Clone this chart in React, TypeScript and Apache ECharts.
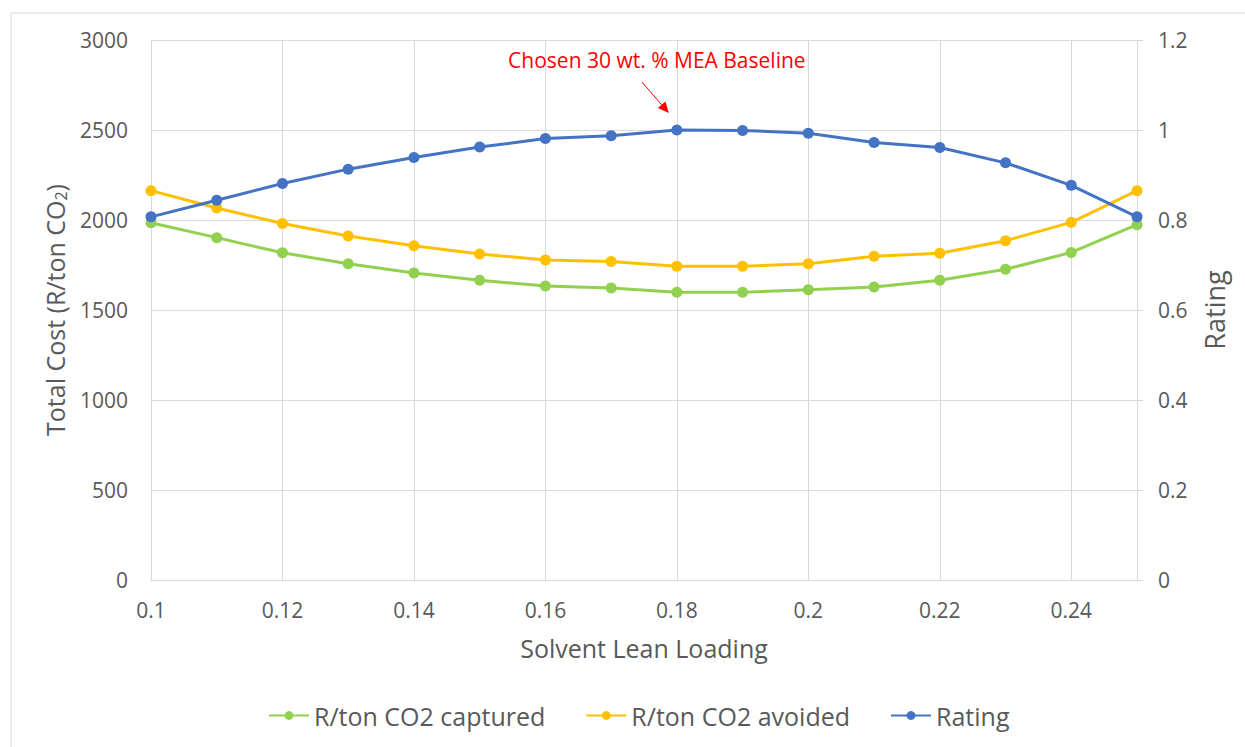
import React, { useEffect, useRef } from "react";
import * as echarts from "echarts";

// Solvent lean loading (mol CO2 / mol MEA)
const leanLoading = [0.1, 0.11, 0.12, 0.13, 0.14, 0.15, 0.16, 0.17, 0.18, 0.19, 0.2, 0.21, 0.22, 0.23, 0.24, 0.25];

// Total cost per ton of CO2 captured (R/ton)
const costCaptured = [1985, 1902, 1818, 1757, 1705, 1665, 1633, 1622, 1598, 1598, 1613, 1628, 1665, 1726, 1820, 1974];

// Total cost per ton of CO2 avoided (R/ton)
const costAvoided = [2163, 2067, 1981, 1911, 1857, 1811, 1778, 1769, 1743, 1743, 1757, 1798, 1815, 1885, 1987, 2163];

// Normalised rating
const rating = [0.807, 0.844, 0.881, 0.913, 0.939, 0.962, 0.981, 0.987, 1.0, 0.999, 0.993, 0.972, 0.961, 0.927, 0.877, 0.807];

const seriesNames = ["R/ton CO2 captured", "R/ton CO2 avoided", "Rating"];
const seriesColors = ["#92D050", "#FFC000", "#4472C4"];

// The chosen baseline point
const baselineX = 0.18;
const baselineRating = 1.0;
const baselineText = "Chosen 30 wt. % MEA Baseline";

const FONT = "'Open Sans', 'Noto Sans', sans-serif";
const TEXT = "#595959";
const GRID = "#D9D9D9";

const pairs = (ys: number[]) => leanLoading.map((x, i) => [x, ys[i]]);

export default function App() {
  const ref = useRef<HTMLDivElement>(null);

  useEffect(() => {
    if (!ref.current) return;
    const chart = echarts.init(ref.current, undefined, { renderer: "svg" });

    const lineSeries = (name: string, color: string, data: number[][], yAxisIndex: number) => ({
      name,
      type: "line",
      yAxisIndex,
      data,
      symbol: "circle",
      symbolSize: 11,
      showSymbol: true,
      lineStyle: { color, width: 3 },
      itemStyle: { color },
      z: 3,
    });

    chart.setOption({
      animation: false,
      textStyle: { fontFamily: FONT },
      grid: { left: 151, right: 108, top: 40, bottom: 167 },
      legend: {
        data: seriesNames,
        top: 698,
        left: 263,
        itemWidth: 40,
        itemHeight: 11,
        itemGap: 40,
        textStyle: { color: TEXT, fontSize: 25, fontFamily: FONT },
      },
      xAxis: {
        type: "value",
        min: 0.1,
        max: 0.25,
        interval: 0.02,
        name: "Solvent Lean Loading",
        nameLocation: "middle",
        nameGap: 55,
        nameTextStyle: { color: TEXT, fontSize: 25, fontFamily: FONT },
        axisLine: { show: true, lineStyle: { color: GRID, width: 1 } },
        axisTick: { show: false },
        axisLabel: {
          color: TEXT,
          fontSize: 21,
          margin: 19,
          showMaxLabel: false,
          formatter: (v: number) => String(+v.toFixed(2)),
        },
        splitLine: { show: true, lineStyle: { color: GRID, width: 1 } },
      },
      yAxis: [
        {
          type: "value",
          min: 0,
          max: 3000,
          interval: 500,
          position: "left",
          name: "{t|Total Cost (R/ton CO}{s|2}{t|)}",
          nameLocation: "middle",
          nameRotate: 90,
          nameGap: 80,
          nameTextStyle: {
            color: TEXT,
            fontFamily: FONT,
            rich: {
              t: { fontSize: 25, color: TEXT, fontFamily: FONT },
              s: { fontSize: 16, color: TEXT, fontFamily: FONT, padding: [12, 0, 0, 0] },
            },
          },
          axisLine: { show: false },
          axisTick: { show: false },
          axisLabel: { color: TEXT, fontSize: 21, margin: 23, formatter: (v: number) => String(v) },
          splitLine: { show: true, lineStyle: { color: GRID, width: 1 } },
        },
        {
          type: "value",
          min: 0,
          max: 1.2,
          interval: 0.2,
          position: "right",
          name: "Rating",
          nameLocation: "middle",
          nameRotate: 90,
          nameGap: 64,
          nameTextStyle: { color: TEXT, fontSize: 27, fontFamily: FONT },
          axisLine: { show: true, lineStyle: { color: GRID, width: 1 } },
          axisTick: { show: true, length: 6, lineStyle: { color: GRID, width: 1 } },
          axisLabel: {
            color: TEXT,
            fontSize: 21,
            margin: 21,
            formatter: (v: number) => String(+v.toFixed(1)),
          },
          splitLine: { show: false },
        },
      ],
      series: [
        lineSeries(seriesNames[0], seriesColors[0], pairs(costCaptured), 0),
        lineSeries(seriesNames[1], seriesColors[1], pairs(costAvoided), 0),
        lineSeries(seriesNames[2], seriesColors[2], pairs(rating), 1),
      ],
    });

    // Annotation arrow pointing at the baseline point
    const [px, py] = chart.convertToPixel({ xAxisIndex: 0, yAxisIndex: 1 }, [baselineX, baselineRating]) as number[];
    const tipX = px - 8;
    const tipY = py - 17;
    const tailX = tipX - 27;
    const tailY = tipY - 31;
    const ang = Math.atan2(tipY - tailY, tipX - tailX);
    const headLen = 11;
    const headW = 5;
    const bx = tipX - headLen * Math.cos(ang);
    const by = tipY - headLen * Math.sin(ang);
    const nx = -Math.sin(ang);
    const ny = Math.cos(ang);

    chart.setOption({
      graphic: [
        {
          type: "rect",
          shape: { x: 11, y: 13, width: 1300, height: 900 },
          style: { fill: "none", stroke: GRID, lineWidth: 1 },
          silent: true,
          z: -10,
        },
        {
          type: "text",
          x: px - 20,
          y: py - 70,
          style: {
            text: baselineText,
            fill: "#FF0000",
            fontSize: 21,
            fontFamily: FONT,
            textAlign: "center",
            textVerticalAlign: "middle",
          },
        },
        {
          type: "line",
          shape: { x1: tailX, y1: tailY, x2: bx, y2: by },
          style: { stroke: "#FF0000", lineWidth: 1 },
        },
        {
          type: "polygon",
          shape: {
            points: [
              [tipX, tipY],
              [bx + nx * headW, by + ny * headW],
              [bx - nx * headW, by - ny * headW],
            ],
          },
          style: { fill: "#FF0000" },
        },
      ],
    });

    return () => chart.dispose();
  }, []);

  return (
    <div
      ref={ref}
      style={{ position: "fixed", left: 0, top: 0, width: 1245, height: 747, background: "#ffffff" }}
    />
  );
}
